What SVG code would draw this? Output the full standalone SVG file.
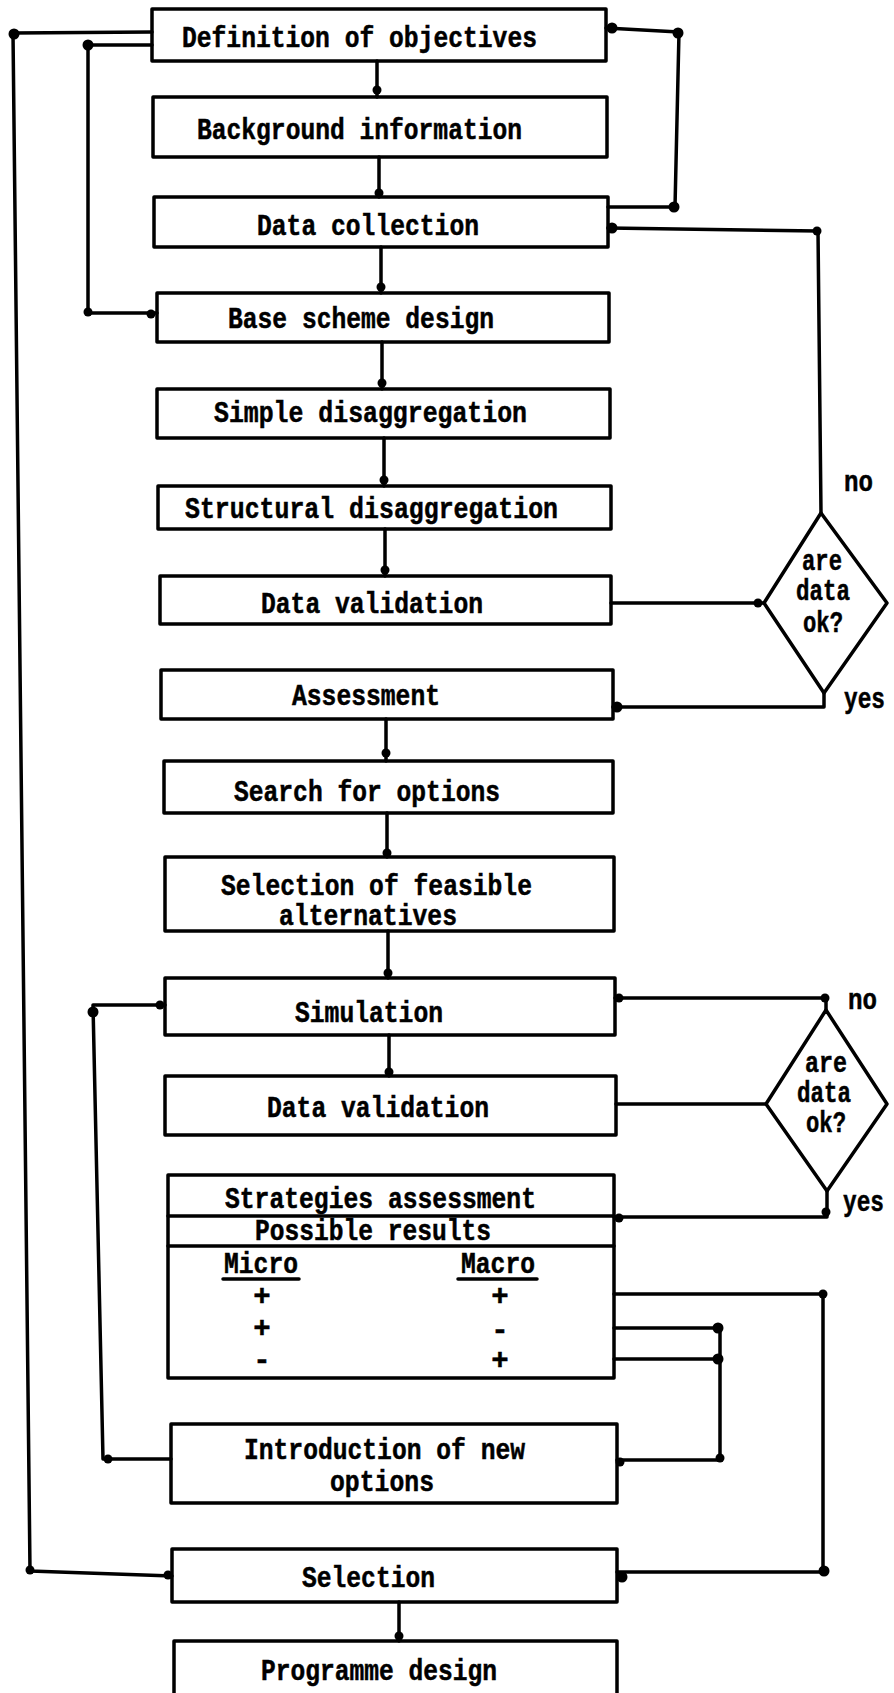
<svg xmlns="http://www.w3.org/2000/svg" width="894" height="1693" viewBox="0 0 894 1693">
<style>
.b{fill:none;stroke:#000;stroke-width:3.5;stroke-linejoin:round}
.c{fill:none;stroke:#000;stroke-width:3.5;stroke-linecap:round;stroke-linejoin:round}
.t{font-family:"Liberation Mono","Courier New",monospace;font-weight:bold;font-size:29px;fill:#000;stroke:#000;stroke-width:0.5}
.m{text-anchor:middle}
.d{fill:#000}
</style>
<rect width="894" height="1693" fill="#fff"/>
<g id="connectors">
<path class="c" d="M377 61V97M379 157V197M381 247V293M382 342V389M384 438V486M385 529V576M386 719V761M387 813V857M388 931V978M389 1035V1076M399 1602V1641"/>
<path class="c" d="M152 32L13 33L30 1571L172 1576"/>
<path class="c" d="M152 45H88V313H157"/>
<path class="c" d="M608 207L675 207L679 32L606 28"/>
<path class="c" d="M608 228L818 231L821 513"/>
<path class="c" d="M611 603H764"/>
<path class="c" d="M824 693V707H613"/>
<path class="c" d="M615 998H826V1010"/>
<path class="c" d="M616 1104H766"/>
<path class="c" d="M827 1191V1217H614"/>
<path class="c" d="M165 1005H93L103 1459H171"/>
<path class="c" d="M614 1294H823V1572H617"/>
<path class="c" d="M614 1328H720V1460H617M614 1359H720"/>
<g class="d">
<circle cx="377" cy="90" r="4.5"/><circle cx="379" cy="193" r="4.5"/><circle cx="381" cy="287" r="4.5"/><circle cx="382" cy="383" r="4.5"/><circle cx="384" cy="480" r="4.5"/><circle cx="385" cy="570" r="4.5"/><circle cx="386" cy="753" r="4.5"/><circle cx="387" cy="853" r="4.5"/><circle cx="388" cy="973" r="4.5"/><circle cx="389" cy="1072" r="4.5"/><circle cx="399" cy="1636" r="4.5"/>
<circle cx="14" cy="34" r="5.5"/><circle cx="88" cy="45" r="5.5"/><circle cx="88" cy="312" r="4.5"/><circle cx="151" cy="314" r="4.5"/>
<circle cx="612" cy="28" r="5.5"/><circle cx="678" cy="33" r="5.5"/><circle cx="674" cy="207" r="5.5"/><circle cx="612" cy="228" r="5.5"/><circle cx="817" cy="231" r="4.5"/>
<circle cx="758" cy="603" r="4.5"/><circle cx="617" cy="707" r="5.5"/>
<circle cx="619" cy="998" r="4.5"/><circle cx="825" cy="998" r="4.5"/><circle cx="826" cy="1212" r="4.5"/><circle cx="619" cy="1218" r="4.5"/>
<circle cx="160" cy="1005" r="4.5"/><circle cx="93" cy="1012" r="5.5"/><circle cx="108" cy="1459" r="4.5"/>
<circle cx="823" cy="1294" r="4.5"/><circle cx="718" cy="1328" r="5.5"/><circle cx="718" cy="1359" r="5.5"/><circle cx="720" cy="1458" r="4.5"/><circle cx="620" cy="1462" r="4.5"/><circle cx="824" cy="1571" r="5.5"/><circle cx="622" cy="1577" r="5.5"/><circle cx="30" cy="1570" r="4.5"/><circle cx="168" cy="1575" r="4.5"/>
</g>
</g>
<g id="n1"><rect class="b" x="152" y="9" width="454" height="52"/><text class="t" x="182" y="47" textLength="355" lengthAdjust="spacingAndGlyphs">Definition of objectives</text></g>
<g id="n2"><rect class="b" x="153" y="97" width="454" height="60"/><text class="t" x="197" y="139" textLength="325" lengthAdjust="spacingAndGlyphs">Background information</text></g>
<g id="n3"><rect class="b" x="154" y="197" width="454" height="50"/><text class="t" x="257" y="235" textLength="222" lengthAdjust="spacingAndGlyphs">Data collection</text></g>
<g id="n4"><rect class="b" x="157" y="293" width="452" height="49"/><text class="t" x="228" y="328" textLength="266" lengthAdjust="spacingAndGlyphs">Base scheme design</text></g>
<g id="n5"><rect class="b" x="157" y="389" width="453" height="49"/><text class="t" x="214" y="422" textLength="313" lengthAdjust="spacingAndGlyphs">Simple disaggregation</text></g>
<g id="n6"><rect class="b" x="158" y="486" width="453" height="43"/><text class="t" x="185" y="518" textLength="373" lengthAdjust="spacingAndGlyphs">Structural disaggregation</text></g>
<g id="n7"><rect class="b" x="160" y="576" width="451" height="48"/><text class="t" x="261" y="613" textLength="222" lengthAdjust="spacingAndGlyphs">Data validation</text></g>
<g id="d1"><polygon class="b" points="821,513 887,603 824,693 764,603"/><text class="t m" x="822" y="570" textLength="40" lengthAdjust="spacingAndGlyphs">are</text><text class="t m" x="823" y="600" textLength="54" lengthAdjust="spacingAndGlyphs">data</text><text class="t m" x="823" y="632" textLength="40" lengthAdjust="spacingAndGlyphs">ok?</text></g>
<text class="t" x="844" y="491" textLength="29" lengthAdjust="spacingAndGlyphs">no</text>
<text class="t" x="844" y="708" textLength="41" lengthAdjust="spacingAndGlyphs">yes</text>
<g id="n8"><rect class="b" x="161" y="670" width="452" height="49"/><text class="t" x="292" y="705" textLength="148" lengthAdjust="spacingAndGlyphs">Assessment</text></g>
<g id="n9"><rect class="b" x="164" y="761" width="449" height="52"/><text class="t" x="234" y="801" textLength="266" lengthAdjust="spacingAndGlyphs">Search for options</text></g>
<g id="n10"><rect class="b" x="165" y="857" width="449" height="74"/><text class="t" x="221" y="895" textLength="311" lengthAdjust="spacingAndGlyphs">Selection of feasible</text><text class="t" x="279" y="925" textLength="178" lengthAdjust="spacingAndGlyphs">alternatives</text></g>
<g id="n11"><rect class="b" x="165" y="978" width="450" height="57"/><text class="t" x="295" y="1022" textLength="148" lengthAdjust="spacingAndGlyphs">Simulation</text></g>
<g id="n12"><rect class="b" x="165" y="1076" width="451" height="59"/><text class="t" x="267" y="1117" textLength="222" lengthAdjust="spacingAndGlyphs">Data validation</text></g>
<g id="d2"><polygon class="b" points="826,1010 887,1104 827,1191 766,1104"/><text class="t m" x="826" y="1072" textLength="42" lengthAdjust="spacingAndGlyphs">are</text><text class="t m" x="824" y="1102" textLength="54" lengthAdjust="spacingAndGlyphs">data</text><text class="t m" x="826" y="1132" textLength="40" lengthAdjust="spacingAndGlyphs">ok?</text></g>
<text class="t" x="848" y="1009" textLength="29" lengthAdjust="spacingAndGlyphs">no</text>
<text class="t" x="843" y="1211" textLength="41" lengthAdjust="spacingAndGlyphs">yes</text>
<g id="n13"><rect class="b" x="168" y="1175" width="446" height="203"/><path class="c" d="M168 1216H614M168 1246H614"/>
<text class="t" x="225" y="1208" textLength="311" lengthAdjust="spacingAndGlyphs">Strategies assessment</text>
<text class="t" x="255" y="1240" textLength="236" lengthAdjust="spacingAndGlyphs">Possible results</text>
<text class="t" x="224" y="1273" textLength="74" lengthAdjust="spacingAndGlyphs">Micro</text>
<text class="t" x="461" y="1273" textLength="74" lengthAdjust="spacingAndGlyphs">Macro</text>
<path class="c" d="M223 1279H299M458 1279H537" stroke-width="2.5"/>
<text class="t m" x="262" y="1305">+</text><text class="t m" x="500" y="1305">+</text>
<text class="t m" x="262" y="1337">+</text><text class="t m" x="500" y="1339">-</text>
<text class="t m" x="262" y="1369">-</text><text class="t m" x="500" y="1369">+</text>
</g>
<g id="n14"><rect class="b" x="171" y="1424" width="446" height="79"/><text class="t" x="244" y="1459" textLength="281" lengthAdjust="spacingAndGlyphs">Introduction of new</text><text class="t" x="330" y="1491" textLength="104" lengthAdjust="spacingAndGlyphs">options</text></g>
<g id="n15"><rect class="b" x="172" y="1549" width="445" height="53"/><text class="t" x="302" y="1587" textLength="133" lengthAdjust="spacingAndGlyphs">Selection</text></g>
<g id="n16"><rect class="b" x="174" y="1641" width="443" height="70"/><text class="t" x="261" y="1680" textLength="236" lengthAdjust="spacingAndGlyphs">Programme design</text></g>
</svg>
